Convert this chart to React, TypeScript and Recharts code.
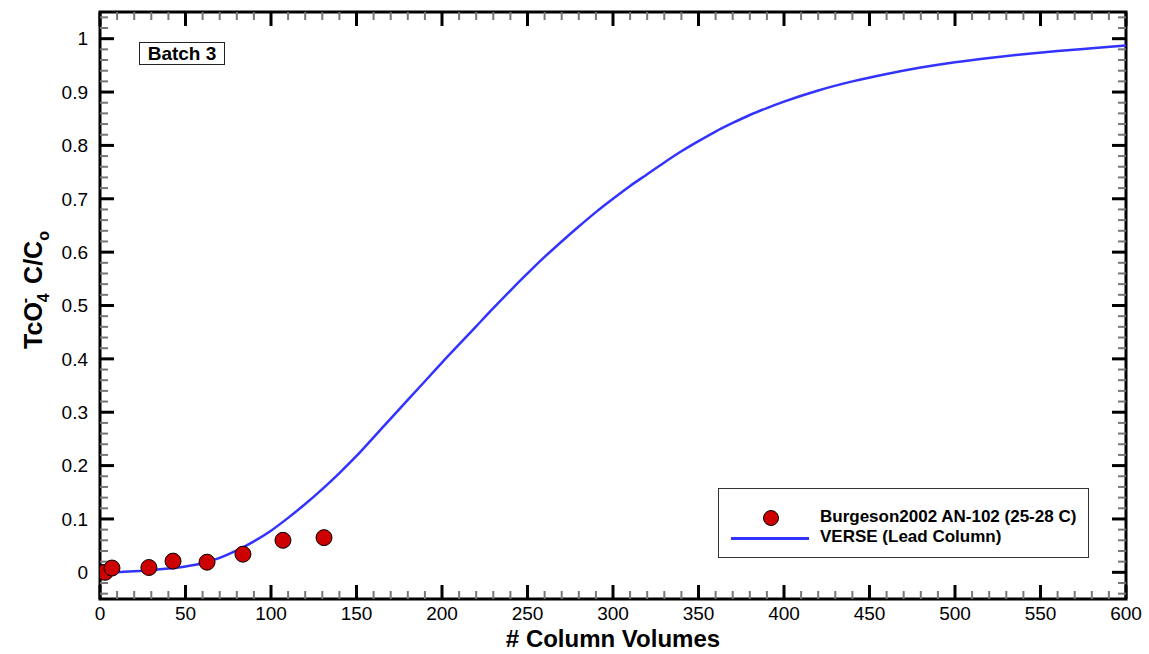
import React from 'react';
import { ComposedChart, Line, Scatter, XAxis, YAxis, ReferenceLine, ReferenceArea, Legend } from 'recharts';

const W = 1149;
const H = 654;
const MARGIN = { top: 12, right: 23, left: 40, bottom: 15 };
const Y_AXIS_W = 60;
const X_AXIS_H = 40;
const PLOT_W = W - MARGIN.left - Y_AXIS_W - MARGIN.right;
const PLOT_H = H - MARGIN.top - MARGIN.bottom - X_AXIS_H;

const X_DOMAIN = [0, 600];
const Y_DOMAIN = [-0.05, 1.05];
const xTicks = [0, 50, 100, 150, 200, 250, 300, 350, 400, 450, 500, 550, 600];
const yTicks = [0, 0.1, 0.2, 0.3, 0.4, 0.5, 0.6, 0.7, 0.8, 0.9, 1];
const yTickLabels = ['0', '0.1', '0.2', '0.3', '0.4', '0.5', '0.6', '0.7', '0.8', '0.9', '1'];

// Burgeson2002 AN-102 measurements
const dataCV = [0, 3, 7, 28.6, 42.7, 62.6, 83.6, 107, 131];
const dataC = [0, 0, 0.008, 0.009, 0.021, 0.019, 0.034, 0.06, 0.065];

// VERSE lead column curve
const verseCV = [0, 10, 20, 30, 40, 50, 60, 70, 80, 90, 100, 110, 120, 130, 140, 150, 160, 170, 180, 190,
  200, 210, 220, 230, 240, 250, 260, 270, 280, 290, 300, 310, 320, 330, 340, 350, 360, 370, 380, 390, 400,
  420, 440, 460, 480, 500, 520, 540, 560, 580, 600];
const verseC = [0, 0.0005, 0.002, 0.004, 0.007, 0.011, 0.017, 0.027, 0.041, 0.058, 0.078, 0.102, 0.128,
  0.156, 0.186, 0.218, 0.253, 0.288, 0.323, 0.358, 0.393, 0.427, 0.461, 0.495, 0.528, 0.56, 0.591, 0.62,
  0.648, 0.675, 0.7, 0.724, 0.746, 0.768, 0.789, 0.808, 0.826, 0.842, 0.857, 0.870, 0.882,
  0.903, 0.92, 0.934, 0.946, 0.956, 0.964, 0.971, 0.977, 0.982, 0.987];

const SERIES_DATA = 'Burgeson2002 AN-102 (25-28 C)';
const SERIES_VERSE = 'VERSE (Lead Column)';

const scatterData = dataCV.map((x, i) => ({ x, y: dataC[i] }));
const lineData = verseCV.map((x, i) => ({ x, y: verseC[i] }));

const FONT = 'Arial, "Liberation Sans", Helvetica, sans-serif';

// tick lengths in px, converted to data units
const xPerPx = (X_DOMAIN[1] - X_DOMAIN[0]) / PLOT_W;
const yPerPx = (Y_DOMAIN[1] - Y_DOMAIN[0]) / PLOT_H;
const MAJOR = 14;
const MINOR = 8;

function frameTicks() {
  const out: React.ReactNode[] = [];
  for (let v = 0; v <= 600; v += 10) {
    const major = v % 50 === 0;
    const len = (major ? MAJOR : MINOR) * yPerPx;
    const stroke = major ? '#000' : '#777';
    const sw = major ? 3 : 2;
    out.push(<ReferenceLine key={`xb${v}`} ifOverflow="visible" stroke={stroke} strokeWidth={sw}
      segment={[{ x: v, y: Y_DOMAIN[0] }, { x: v, y: Y_DOMAIN[0] + len }]} />);
    out.push(<ReferenceLine key={`xt${v}`} ifOverflow="visible" stroke={stroke} strokeWidth={sw}
      segment={[{ x: v, y: Y_DOMAIN[1] }, { x: v, y: Y_DOMAIN[1] - len }]} />);
  }
  for (let i = -2; i <= 52; i++) {
    const v = i * 0.02;
    const major = i % 5 === 0;
    const len = (major ? MAJOR : MINOR) * xPerPx;
    const stroke = major ? '#000' : '#777';
    const sw = major ? 3 : 2;
    out.push(<ReferenceLine key={`yl${i}`} ifOverflow="visible" stroke={stroke} strokeWidth={sw}
      segment={[{ x: X_DOMAIN[0], y: v }, { x: X_DOMAIN[0] + len, y: v }]} />);
    out.push(<ReferenceLine key={`yr${i}`} ifOverflow="visible" stroke={stroke} strokeWidth={sw}
      segment={[{ x: X_DOMAIN[1], y: v }, { x: X_DOMAIN[1] - len, y: v }]} />);
  }
  return out;
}

const YTitle = () => (
  <text transform="rotate(-90, 42, 290)" x={42} y={290} textAnchor="middle"
    fontFamily={FONT} fontWeight="bold" fontSize={25} fill="#000">
    <tspan>TcO</tspan>
    <tspan fontSize={16} dy={7}>4</tspan>
    <tspan fontSize={16} dx={-10} dy={-19}>-</tspan>
    <tspan dy={12} dx={14}>C/C</tspan>
    <tspan fontSize={16} dy={7}>o</tspan>
  </text>
);

const XTitle = () => (
  <text x={MARGIN.left + Y_AXIS_W + PLOT_W / 2} y={647} textAnchor="middle"
    fontFamily={FONT} fontWeight="bold" fontSize={24} fill="#000">
    # Column Volumes
  </text>
);

const LegendBox = () => (
  <div style={{
    width: 369, height: 68, border: '1px solid #333', background: '#fff', position: 'relative',
    fontFamily: FONT, fontWeight: 'bold', fontSize: 17, color: '#000',
  }}>
    <div style={{
      position: 'absolute', left: 44, top: 21, width: 14, height: 14, borderRadius: '50%',
      background: '#cc0000', border: '1px solid #000',
    }} />
    <div style={{ position: 'absolute', left: 12, top: 48, width: 78, height: 3, background: '#3333ff' }} />
    <div style={{ position: 'absolute', left: 101, top: 18, lineHeight: '20px' }}>{SERIES_DATA}</div>
    <div style={{ position: 'absolute', left: 101, top: 38, lineHeight: '20px' }}>{SERIES_VERSE}</div>
  </div>
);

export default function App() {
  return (
    <div style={{ position: 'absolute', left: 0, top: 0, width: W, height: H, background: '#fff' }}>
      <ComposedChart width={W} height={H} margin={MARGIN}>
        <XAxis type="number" dataKey="x" domain={X_DOMAIN} ticks={xTicks} allowDataOverflow
          height={X_AXIS_H} axisLine={false} tickLine={false} tickSize={0} tickMargin={8}
          tick={{ fill: '#000', fontSize: 19, fontFamily: FONT }} label={<XTitle />} />
        <YAxis type="number" dataKey="y" domain={Y_DOMAIN} ticks={yTicks} allowDataOverflow
          width={Y_AXIS_W} axisLine={false} tickLine={false} tickSize={0} tickMargin={12}
          tickFormatter={(v: number) => yTickLabels[yTicks.indexOf(v)] ?? String(v)}
          tick={{ fill: '#000', fontSize: 19, fontFamily: FONT }} label={<YTitle />} />
        <Scatter name={SERIES_DATA} data={scatterData} dataKey="y" fill="#cc0000" stroke="#000"
          strokeWidth={1} isAnimationActive={false}
          shape={(p: any) => <circle cx={p.cx} cy={p.cy} r={8} fill="#cc0000" stroke="#000" strokeWidth={1} />} />
        <Line name={SERIES_VERSE} data={lineData} dataKey="y" type="monotone" stroke="#3333ff"
          strokeWidth={2.5} dot={false} activeDot={false} isAnimationActive={false} />
        {frameTicks()}
        <ReferenceArea x1={X_DOMAIN[0]} x2={X_DOMAIN[1]} y1={Y_DOMAIN[0]} y2={Y_DOMAIN[1]}
          ifOverflow="visible" fill="none" fillOpacity={0} stroke="#000" strokeWidth={3} />
        <Legend layout="vertical" align="center" verticalAlign="middle"
          wrapperStyle={{ position: 'absolute', left: 718, top: 488, width: 371, height: 70 }}
          content={() => <LegendBox />} />
      </ComposedChart>
      <div style={{
        position: 'absolute', left: 139, top: 42, width: 84, height: 21, border: '1px solid #222',
        fontFamily: FONT, fontWeight: 'bold', fontSize: 19, lineHeight: '21px', textAlign: 'center',
        color: '#000', background: '#fff',
      }}>Batch 3</div>
    </div>
  );
}
